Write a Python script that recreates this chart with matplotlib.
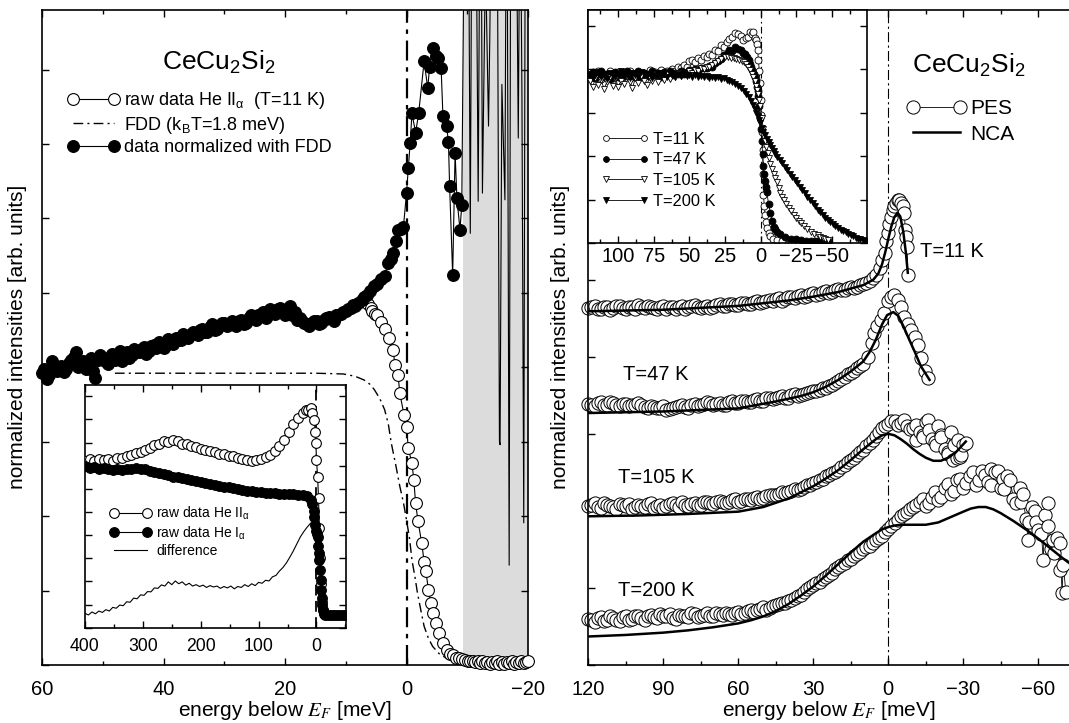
import matplotlib
matplotlib.use('Agg')
import matplotlib.pyplot as plt
from matplotlib.lines import Line2D
from matplotlib.ticker import MultipleLocator
import numpy as np

plt.rcParams['font.family'] = ['Liberation Sans', 'DejaVu Sans']
plt.rcParams['mathtext.fontset'] = 'stix'

# ---------------- left panel: T=11 K, FDD normalisation ----------------
# data normalized with FDD: two interleaved energy grids + fine part near E_F
e_norm_a = np.linspace(60, 8, 66)
i_norm_a = [3.92, 3.84, 4.08, 3.95, 4.02, 3.98, 4.10, 4.20, 4.05, 3.98,
            4.12, 3.86, 4.16, 4.08, 4.14, 4.10, 4.22, 4.18, 4.12, 4.24,
            4.20, 4.27, 4.22, 4.30, 4.34, 4.26, 4.38, 4.31, 4.36, 4.45,
            4.40, 4.48, 4.43, 4.52, 4.47, 4.58, 4.52, 4.60, 4.55, 4.62,
            4.56, 4.64, 4.60, 4.70, 4.63, 4.72, 4.66, 4.78, 4.72, 4.80,
            4.70, 4.82, 4.74, 4.66, 4.60, 4.56, 4.62, 4.58, 4.64, 4.68,
            4.62, 4.70, 4.74, 4.78, 4.84, 4.86]
e_norm_b = np.linspace(59.6, 8.4, 65)
i_norm_b = [3.98, 3.90, 4.02, 4.00, 3.93, 4.06, 4.14, 4.00, 4.08, 4.02,
            3.95, 4.10, 4.12, 4.04, 4.18, 4.14, 4.08, 4.20, 4.16, 4.22,
            4.25, 4.18, 4.28, 4.26, 4.32, 4.30, 4.34, 4.40, 4.36, 4.42,
            4.44, 4.46, 4.50, 4.48, 4.54, 4.50, 4.56, 4.60, 4.58, 4.60,
            4.62, 4.58, 4.66, 4.68, 4.70, 4.74, 4.70, 4.76, 4.78, 4.76,
            4.78, 4.70, 4.64, 4.62, 4.58, 4.60, 4.62, 4.60, 4.66, 4.66,
            4.70, 4.72, 4.76, 4.80, 4.82]
e_norm_fine = [7.4, 7.0, 6.5, 6.0, 5.3, 4.8, 4.2, 3.6, 3.1, 2.6, 2.2, 1.8,
               1.4, 0.9, 0.5, 0.0, -0.3, -0.6, -0.9, -1.5, -2.0, -2.9, -3.5,
               -3.8, -4.3, -4.8, -5.2, -5.7, -6.0, -6.6, -6.9, -7.1, -7.6,
               -8.0, -8.3, -8.8, -9.1]
i_norm_fine = [4.90, 4.95, 4.97, 5.02, 5.09, 5.12, 5.18, 5.22, 5.40, 5.45,
               5.53, 5.70, 5.84, 5.86, 5.89, 6.34, 6.68, 7.01, 7.41, 7.15,
               7.41, 8.11, 7.75, 8.04, 8.29, 8.18, 8.15, 8.02, 7.37, 7.24,
               7.03, 6.43, 5.24, 6.88, 6.27, 5.85, 6.18]

# normalized data inside the grey (noise dominated) region
e_noise = [-9.1, -9.6, -10.1, -10.5, -10.9, -11.3, -11.8, -12.2, -12.5,
           -13.0, -13.5, -13.7, -14.2, -14.8, -15.3, -15.4, -15.7, -16.2,
           -16.5, -16.9, -17.2, -17.8, -18.4, -18.7, -19.0, -19.3, -19.6, -20.0]
i_noise = [6.18, 11, 12, 5.8, 13, 12, 6.23, 12, 6.34, 9.5, 7.24, 8.36, 12, 13,
           3.0, 2.96, 7.8, 6.25, 12, 1.34, 12, 13, 7.08, 11, 7.68, 1.91, 12, 12]

# raw data He II (visible part, cut-off region)
e_raw = [7.0, 6.4, 5.9, 5.6, 5.2, 4.8, 4.2, 3.6, 2.8, 2.2, 1.9, 1.4, 1.1, 0.4,
         0.0, -0.3, -0.9, -1.2, -1.5, -1.9, -2.5, -2.9, -3.2, -3.6, -4.0,
         -4.4, -4.9, -5.4, -6.0, -6.6, -7.2, -7.7, -8.2, -8.7, -9.2, -9.7,
         -10.1, -10.5, -10.9, -11.3, -11.7, -12.1, -12.5, -12.9, -13.3,
         -13.7, -14.1, -14.5, -14.9, -15.3, -15.7, -16.1, -16.5, -16.9,
         -17.3, -17.7, -18.1, -18.5, -18.9, -19.3, -19.7, -20.0]
i_raw = [4.93, 4.85, 4.80, 4.75, 4.72, 4.70, 4.61, 4.52, 4.39, 4.23, 4.03,
         3.90, 3.65, 3.36, 3.20, 2.91, 2.71, 2.49, 2.17, 1.93, 1.64, 1.39,
         1.26, 1.01, 0.83, 0.70, 0.56, 0.43, 0.29, 0.20, 0.15, 0.13, 0.10,
         0.09, 0.08, 0.07, 0.06, 0.05, 0.06, 0.04, 0.05, 0.03, 0.05, 0.03,
         0.04, 0.02, 0.04, 0.03, 0.05, 0.02, 0.04, 0.02, 0.04, 0.03, 0.05,
         0.02, 0.04, 0.03, 0.05, 0.03, 0.04, 0.05]

# Fermi-Dirac distribution, k_B T = 1.8 meV
e_fdd = [48, 30, 15, 10.4, 8.5, 7.0, 6.0, 5.3, 4.4, 3.6, 3.0, 2.5, 1.8,
         1.1, 0.5, 0.0, -0.5, -0.9, -1.4, -1.8, -2.4, -2.9, -3.6, -4.3, -5.4,
         -6.6, -8.0, -10.0]
i_fdd = [3.92, 3.92, 3.92, 3.91, 3.88, 3.83, 3.77, 3.70, 3.58, 3.43,
         3.24, 2.98, 2.70, 2.40, 2.18, 1.95, 1.70, 1.41, 1.18, 0.97, 0.72,
         0.52, 0.36, 0.25, 0.15, 0.09, 0.04, 0.02]
grey_from, grey_to = -9.35, -20

# ---------------- left inset: He II, He I and difference ----------------
e_he2_grid = np.linspace(400, 24, 48)
i_he2_grid = [7.22, 7.30, 7.20, 7.28, 7.24, 7.30, 7.22, 7.32, 7.35, 7.40,
              7.45, 7.55, 7.58, 7.70, 7.78, 7.90, 7.95, 8.05, 8.02, 8.12,
              8.05, 7.95, 7.92, 7.85, 7.80, 7.74, 7.70, 7.62, 7.60, 7.52,
              7.50, 7.42, 7.40, 7.32, 7.30, 7.25, 7.22, 7.26, 7.30, 7.36,
              7.48, 7.62, 7.85, 8.10, 8.45, 8.80, 9.05, 9.28]
e_he2_fine = [18, 14, 10, 7, 4, 2, 1, 0, -2, -3.5, -5, -6.5, -8, -9.5, -11, -13]
i_he2_fine = [9.40, 9.42, 9.48, 9.30, 8.98, 8.47, 7.97, 7.25, 6.53, 5.59, 4.3,
              3.0, 1.9, 1.1, 0.75, 0.6]

e_he1_grid = np.linspace(400, 16, 49)
i_he1_grid = [6.98, 6.92, 6.95, 6.88, 6.90, 6.84, 6.82, 6.86, 6.83, 6.88,
              6.85, 6.90, 6.86, 6.84, 6.78, 6.74, 6.70, 6.64, 6.58, 6.52,
              6.50, 6.45, 6.42, 6.38, 6.34, 6.30, 6.26, 6.22, 6.18, 6.14,
              6.10, 6.06, 6.02, 5.98, 5.95, 5.92, 5.90, 5.88, 5.86, 5.84,
              5.82, 5.81, 5.80, 5.78, 5.77, 5.76, 5.74, 5.73, 5.68]
e_he1_fine = [10, 7, 5, 4, 2.5, 1, -0.5, -2, -3, -4, -5, -6, -7, -8, -9, -10,
              -11, -12.5, -15, -20, -25, -30, -35, -40, -45, -50]
i_he1_fine = [5.52, 5.35, 5.05, 4.80, 4.45, 4.20, 4.05, 3.93, 3.55, 3.25, 2.93,
              2.50, 2.05, 1.63, 1.30, 1.00, 0.76, 0.62, 0.57, 0.55, 0.56, 0.54,
              0.55, 0.56, 0.55, 0.55]

e_diff = np.linspace(400, 10, 66)
i_diff = [0.62, 0.55, 0.68, 0.60, 0.72, 0.66, 0.78, 0.72, 0.88, 0.84,
          0.98, 0.95, 1.12, 1.10, 1.28, 1.25, 1.42, 1.40, 1.56, 1.55,
          1.72, 1.70, 1.85, 1.80, 1.98, 1.86, 2.02, 1.90, 1.98, 1.84,
          1.92, 1.80, 1.86, 1.78, 1.84, 1.74, 1.82, 1.76, 1.80, 1.70,
          1.78, 1.72, 1.80, 1.68, 1.78, 1.74, 1.86, 1.78, 1.90, 1.82,
          1.96, 1.92, 2.05, 2.02, 2.20, 2.26, 2.45, 2.60, 2.80, 3.05,
          3.32, 3.62, 3.92, 4.15, 4.35, 4.52]

# ---------------- right panel: PES vs NCA, four temperatures ----------------
e_11_a = np.linspace(120, 5, 47)
i_11_a = [4.63, 4.66, 4.62, 4.65, 4.63, 4.66, 4.62, 4.64, 4.67, 4.63,
          4.65, 4.62, 4.66, 4.64, 4.62, 4.66, 4.64, 4.67, 4.63, 4.66,
          4.65, 4.68, 4.66, 4.69, 4.67, 4.70, 4.69, 4.72, 4.71, 4.74,
          4.75, 4.73, 4.78, 4.76, 4.80, 4.79, 4.83, 4.82, 4.85, 4.84,
          4.88, 4.87, 4.90, 4.91, 4.95, 4.98, 5.06]
e_11_b = np.linspace(118.75, 6.25, 46)
i_11_b = [4.65, 4.62, 4.64, 4.61, 4.66, 4.63, 4.65, 4.62, 4.64, 4.66,
          4.63, 4.65, 4.62, 4.65, 4.64, 4.62, 4.66, 4.64, 4.65, 4.63,
          4.67, 4.66, 4.68, 4.67, 4.70, 4.68, 4.71, 4.70, 4.73, 4.72,
          4.76, 4.75, 4.77, 4.79, 4.78, 4.81, 4.80, 4.84, 4.83, 4.86,
          4.86, 4.89, 4.89, 4.93, 4.96, 5.02]
e_11_fine = [3.5, 2.5, 1.5, 0.8, 0.3, -0.4, -1.0, -1.7, -2.4, -3.0, -3.7,
             -4.4, -5.1, -5.8, -6.4, -6.8, -7.2, -7.5, -7.8]
i_11_fine = [5.15, 5.25, 5.35, 5.50, 5.61, 5.72, 5.82, 5.90, 5.95, 6.00, 6.04,
             6.03, 6.00, 5.95, 5.87, 5.65, 5.55, 5.43, 5.06]
e_nca_11 = [120, 90, 60, 40, 30, 20, 10, 6, 4, 2.5, 1.2, 0, -1.2, -2.4, -3.7,
            -4.8, -6, -7, -7.8]
i_nca_11 = [4.59, 4.61, 4.66, 4.73, 4.78, 4.84, 4.93, 5.00, 5.08, 5.20, 5.36,
            5.53, 5.69, 5.81, 5.87, 5.82, 5.62, 5.36, 5.09]

e_47_a = np.linspace(120, 10, 45)
i_47_a = [3.39, 3.36, 3.41, 3.37, 3.40, 3.36, 3.39, 3.37, 3.40, 3.35,
          3.36, 3.33, 3.36, 3.32, 3.35, 3.37, 3.34, 3.39, 3.37, 3.41,
          3.38, 3.40, 3.38, 3.42, 3.40, 3.43, 3.41, 3.45, 3.43, 3.47,
          3.46, 3.49, 3.47, 3.52, 3.50, 3.53, 3.55, 3.57, 3.60, 3.64,
          3.69, 3.74, 3.79, 3.86, 3.90]
e_47_b = np.linspace(118.75, 11.25, 44)
i_47_b = [3.37, 3.40, 3.38, 3.41, 3.37, 3.39, 3.36, 3.38, 3.37, 3.34,
          3.35, 3.34, 3.31, 3.34, 3.36, 3.35, 3.38, 3.36, 3.39, 3.40,
          3.39, 3.37, 3.41, 3.40, 3.42, 3.41, 3.44, 3.43, 3.46, 3.45,
          3.48, 3.46, 3.50, 3.49, 3.52, 3.54, 3.56, 3.59, 3.62, 3.66,
          3.71, 3.77, 3.82, 3.88]
e_47_fine = [8, 6.5, 5.7, 4.5, 3, 1.6, 0.3, -1, -2.4, -3.7, -5.1, -6.4, -7.8,
             -9.1, -10.5, -11.8, -13.2, -14.5, -15.9]
i_47_fine = [4.00, 4.18, 4.31, 4.40, 4.48, 4.57, 4.72, 4.77, 4.80, 4.74, 4.64,
             4.52, 4.42, 4.35, 4.26, 4.15, 3.98, 3.82, 3.73]
e_nca_47 = [120, 90, 60, 45, 35, 30, 25, 20, 15, 10, 7.5, 5, 2.5, 0.5, -2, -4,
            -6, -8, -10.5, -13, -16.5]
i_nca_47 = [3.27, 3.29, 3.33, 3.42, 3.49, 3.54, 3.61, 3.70, 3.81, 3.94, 4.06,
            4.22, 4.42, 4.54, 4.58, 4.53, 4.40, 4.25, 4.07, 3.88, 3.70]

e_105_a = np.linspace(120, -30, 61)
i_105_a = [2.06, 2.10, 2.04, 2.08, 2.05, 2.09, 2.06, 2.03, 2.08, 2.05,
           2.10, 2.06, 2.04, 2.09, 2.07, 2.11, 2.06, 2.10, 2.08, 2.12,
           2.09, 2.13, 2.10, 2.14, 2.12, 2.16, 2.14, 2.18, 2.17, 2.21,
           2.20, 2.24, 2.24, 2.28, 2.29, 2.33, 2.36, 2.40, 2.45, 2.49,
           2.53, 2.60, 2.66, 2.72, 2.79, 2.88, 2.97, 3.07, 3.13, 3.17,
           3.14, 3.10, 3.08, 3.02, 3.15, 2.93, 3.10, 2.80, 3.02, 2.68,
           2.85]
e_105_b = np.linspace(118.75, -28.75, 60)
i_105_b = [2.08, 2.05, 2.10, 2.06, 2.03, 2.07, 2.09, 2.05, 2.06, 2.09,
           2.04, 2.08, 2.06, 2.10, 2.05, 2.08, 2.09, 2.07, 2.11, 2.10,
           2.11, 2.12, 2.11, 2.15, 2.13, 2.15, 2.17, 2.16, 2.19, 2.20,
           2.22, 2.23, 2.26, 2.27, 2.31, 2.34, 2.38, 2.42, 2.47, 2.51,
           2.57, 2.63, 2.69, 2.76, 2.84, 2.92, 3.02, 3.10, 3.16, 3.12,
           3.18, 3.06, 3.12, 2.98, 3.05, 2.90, 2.96, 2.76, 2.86, 2.70]
e_105_extra = [-11, -14, -16, -19, -21, -24, -26, -28, -29, -31]
i_105_extra = [2.92, 2.96, 3.18, 2.86, 2.98, 2.74, 2.66, 2.92, 2.72, 2.88]
e_nca_105 = [120, 100, 80, 60, 50, 40, 30, 25, 20, 15, 10, 5, 2.5, 0, -2.5, -5,
             -7.5, -10, -12.5, -15, -18, -21, -24, -27, -31]
i_nca_105 = [1.93, 1.94, 1.96, 1.99, 2.05, 2.16, 2.32, 2.42, 2.53, 2.66, 2.80,
             2.93, 2.98, 3.00, 2.98, 2.93, 2.87, 2.80, 2.74, 2.69, 2.65, 2.65,
             2.69, 2.76, 2.90]

e_200_a = np.linspace(120, -70, 77)
i_200_a = [0.60, 0.56, 0.62, 0.58, 0.61, 0.57, 0.63, 0.60, 0.64, 0.59,
           0.65, 0.61, 0.63, 0.66, 0.60, 0.64, 0.62, 0.66, 0.63, 0.67,
           0.64, 0.66, 0.68, 0.65, 0.69, 0.67, 0.71, 0.72, 0.75, 0.74,
           0.78, 0.80, 0.83, 0.87, 0.91, 0.98, 1.04, 1.08, 1.14, 1.20,
           1.27, 1.33, 1.38, 1.44, 1.50, 1.55, 1.62, 1.68, 1.76, 1.84,
           1.93, 1.98, 2.05, 2.12, 2.06, 2.18, 2.14, 2.30, 2.22, 2.40,
           2.30, 2.45, 2.34, 2.52, 2.38, 2.50, 2.30, 2.45, 2.16, 2.30,
           1.90, 2.05, 1.75, 1.95, 1.50, 1.65, 1.30]
e_200_b = np.linspace(118.75, -68.75, 76)
i_200_b = [0.58, 0.61, 0.57, 0.63, 0.59, 0.62, 0.58, 0.64, 0.61, 0.63,
           0.62, 0.66, 0.64, 0.61, 0.65, 0.63, 0.67, 0.62, 0.65, 0.64,
           0.67, 0.65, 0.66, 0.68, 0.66, 0.70, 0.69, 0.73, 0.72, 0.76,
           0.79, 0.81, 0.85, 0.89, 0.95, 1.01, 1.06, 1.11, 1.17, 1.24,
           1.30, 1.36, 1.41, 1.47, 1.53, 1.58, 1.65, 1.72, 1.80, 1.88,
           1.96, 2.02, 2.08, 2.16, 2.10, 2.24, 2.18, 2.35, 2.26, 2.42,
           2.36, 2.50, 2.40, 2.46, 2.34, 2.52, 2.28, 2.40, 2.10, 2.22,
           1.85, 2.00, 1.70, 1.80, 1.45, 1.58]
e_200_extra = [-41, -46, -53, -56, -59, -62, -64, -66, -68.5, -69.5, -71]
i_200_extra = [2.55, 2.42, 2.12, 1.62, 1.85, 1.36, 2.10, 1.62, 1.23, 0.93, 0.95]
e_nca_200 = [120, 105, 90, 80, 70, 60, 55, 50, 45, 40, 35, 30, 25, 20, 15, 10,
             5, 2.5, 0, -2.5, -5, -10, -15, -20, -25, -30, -33, -36, -39, -42,
             -45, -50, -55, -60, -65, -70, -75]
i_nca_200 = [0.37, 0.39, 0.42, 0.45, 0.49, 0.54, 0.58, 0.63, 0.70, 0.79, 0.90,
             1.02, 1.16, 1.31, 1.46, 1.60, 1.71, 1.76, 1.79, 1.81, 1.82, 1.82,
             1.82, 1.85, 1.92, 1.99, 2.03, 2.05, 2.05, 2.02, 1.97, 1.87, 1.76,
             1.64, 1.51, 1.38, 1.26]

temp_labels = ['T=11 K', 'T=47 K', 'T=105 K', 'T=200 K']
temp_label_pos = [(-12.7, 5.36), (106.3, 3.77), (108.1, 2.43), (108.1, 0.97)]

# ---------------- right inset: raw spectra at four temperatures ----------------
e_in11_grid = np.linspace(120, 56, 33)
i_in11_grid = [3.80, 3.92, 3.84, 3.95, 3.78, 3.90, 3.86, 3.97, 3.82, 3.88,
               3.93, 3.79, 3.91, 3.85, 3.96, 3.83, 3.89, 3.94, 3.81, 3.92,
               3.87, 3.98, 3.84, 3.93, 3.88, 3.99, 3.90, 3.95, 3.92, 4.00,
               3.96, 4.04, 4.02]
e_in11_fine = [54, 52, 50, 48, 46, 44, 42, 40, 38, 36, 34, 32, 30, 28, 26, 24,
               22, 20, 18, 16, 14, 12.3, 10.5, 9, 7.5, 6.4, 5.2, 4.2, 3.4, 2.8,
               2.2, 1.6, 1.0, 0.5, 0.0, -0.5, -1.0, -1.4, -1.65, -1.9, -2.6,
               -3.1, -3.7, -4.3, -5.5, -6.7, -8.5, -11.4, -15, -21]
i_in11_fine = [4.10, 4.06, 4.18, 4.21, 4.16, 4.25, 4.22, 4.30, 4.28, 4.36,
               4.33, 4.45, 4.42, 4.56, 4.52, 4.63, 4.70, 4.75, 4.84, 4.80,
               4.76, 4.67, 4.72, 4.75, 4.85, 4.82, 4.86, 4.72, 4.66, 4.59,
               4.45, 4.21, 3.95, 3.68, 3.30, 2.95, 2.55, 2.15, 1.60, 1.10,
               0.85, 0.65, 0.48, 0.36, 0.24, 0.16, 0.10, 0.07, 0.05, 0.04]

e_in47_grid = np.linspace(120, 40, 41)
i_in47_grid = [3.84, 3.93, 3.80, 3.89, 3.96, 3.82, 3.90, 3.78, 3.87, 3.94,
               3.83, 3.91, 3.86, 3.97, 3.80, 3.89, 3.85, 3.95, 3.81, 3.92,
               3.88, 3.84, 3.96, 3.87, 3.91, 3.83, 3.94, 3.89, 3.97, 3.86,
               3.92, 3.88, 3.96, 3.90, 3.94, 3.98, 3.93, 4.01, 3.97, 4.03,
               4.02]
e_in47_fine = [38, 36, 34, 32, 30, 28, 26, 24, 22, 20, 18, 16, 14, 12.3, 10.8,
               9.5, 8.5, 7.6, 6.6, 5.8, 4.9, 4.0, 3.4, 2.8, 2.2, 1.6, 1.0, 0.5,
               -0.1, -0.7, -1.3, -1.9, -2.5, -3.1, -3.7, -4.3, -5.5, -6.7, -8,
               -9.0, -10.2, -11.4, -13.8, -17, -21, -25, -28, -32, -35, -38,
               -41, -44, -47]
i_in47_fine = [4.02, 4.08, 4.06, 4.14, 4.18, 4.24, 4.32, 4.36, 4.44, 4.42,
               4.50, 4.46, 4.45, 4.38, 4.34, 4.28, 4.20, 4.13, 4.06, 3.98,
               3.90, 3.81, 3.72, 3.60, 3.50, 3.38, 3.15, 2.89, 2.62, 2.36,
               2.05, 1.77, 1.60, 1.43, 1.30, 1.18, 0.90, 0.70, 0.52, 0.38,
               0.32, 0.27, 0.21, 0.15, 0.11, 0.09, 0.08, 0.06, 0.05, 0.05,
               0.05, 0.04, 0.05]

e_in105_grid = np.linspace(120, 40, 41)
i_in105_grid = [3.72, 3.58, 3.80, 3.64, 3.76, 3.55, 3.70, 3.83, 3.62, 3.78,
                3.60, 3.74, 3.66, 3.82, 3.70, 3.57, 3.79, 3.68, 3.85, 3.72,
                3.64, 3.80, 3.74, 3.88, 3.70, 3.83, 3.76, 3.90, 3.78, 3.86,
                3.82, 3.92, 3.85, 3.90, 3.88, 3.95, 3.92, 3.98, 3.96, 4.02,
                4.00]
e_in105_fine = [38, 36, 34, 32, 30, 28, 25.4, 23, 21, 19, 17, 15, 13, 11.5, 10,
                8.7, 7.5, 6.3, 5.2, 4.3, 3.4, 2.5, 1.6, 1.0, 0.4, -0.7, -1.9,
                -3.1, -4.0, -4.9, -5.8, -6.7, -7.8, -9, -10.2, -11.4, -12.6,
                -13.8, -15, -16.2, -18, -19.7, -21.5, -23.3, -25, -26.8, -28.6,
                -30.4, -32.7, -35, -37.5, -39.9, -41.7, -43.5, -45.3, -47]
i_in105_fine = [4.04, 4.06, 4.10, 4.15, 4.18, 4.24, 4.29, 4.27, 4.25, 4.26,
                4.23, 4.21, 4.18, 4.16, 4.13, 4.05, 3.98, 3.90, 3.81, 3.72,
                3.62, 3.52, 3.43, 3.30, 3.15, 2.89, 2.62, 2.36, 2.22, 2.08,
                1.95, 1.82, 1.71, 1.60, 1.50, 1.40, 1.27, 1.15, 1.07, 1.00,
                0.91, 0.82, 0.74, 0.66, 0.59, 0.52, 0.46, 0.40, 0.33, 0.27,
                0.22, 0.18, 0.15, 0.12, 0.09, 0.07]

e_in200_grid = np.linspace(120, 36, 43)
i_in200_grid = [3.90, 3.80, 3.86, 3.94, 3.83, 3.88, 3.78, 3.92, 3.85, 3.81,
                3.89, 3.95, 3.84, 3.87, 3.79, 3.91, 3.86, 3.82, 3.93, 3.88,
                3.84, 3.90, 3.80, 3.87, 3.92, 3.85, 3.89, 3.83, 3.91, 3.86,
                3.82, 3.88, 3.85, 3.90, 3.84, 3.87, 3.83, 3.86, 3.82, 3.85,
                3.81, 3.84, 3.80]
e_in200_fine = [34, 32, 30, 28, 26, 24, 22, 20, 18, 16, 14, 12, 10, 8.5, 7,
                5.5, 4, 3, 2.2, 1.3, 0.5, -0.7, -1.9, -3.1, -4.3, -5.5, -6.7,
                -7.9, -9, -10.2, -11.4, -13.2, -15, -16.8, -18.5, -20.3, -22,
                -23.9, -25.7, -27.4, -29, -31, -32.8, -34.6, -36.4, -38.2,
                -39.9, -41.7, -43.5, -45.3, -47, -48.8, -50.6, -52.4, -54.2,
                -56, -57.8, -59.6, -61.3, -63.1, -64.9, -66.7, -68.4, -70,
                -71.5, -73, -74.4]
i_in200_fine = [3.83, 3.80, 3.82, 3.78, 3.79, 3.76, 3.74, 3.70, 3.66, 3.61,
                3.56, 3.50, 3.42, 3.35, 3.28, 3.18, 3.08, 3.00, 2.92, 2.84,
                2.76, 2.66, 2.55, 2.48, 2.40, 2.33, 2.25, 2.18, 2.12, 2.05,
                1.99, 1.92, 1.84, 1.76, 1.68, 1.60, 1.53, 1.46, 1.38, 1.30,
                1.22, 1.15, 1.07, 1.00, 0.92, 0.85, 0.77, 0.71, 0.65, 0.59,
                0.54, 0.49, 0.45, 0.40, 0.35, 0.31, 0.28, 0.25, 0.22, 0.19,
                0.16, 0.13, 0.11, 0.09, 0.07, 0.05, 0.04]


def join(*parts):
    # parts: e1, i1, e2, i2, ... -> one series sorted by falling energy
    e = np.concatenate([np.asarray(p, float) for p in parts[0::2]])
    i = np.concatenate([np.asarray(p, float) for p in parts[1::2]])
    order = np.argsort(-e, kind='stable')
    return e[order], i[order]


def style(ax, xmaj, xmin, ymaj, labelsize, pad):
    ax.xaxis.set_major_locator(MultipleLocator(xmaj))
    ax.xaxis.set_minor_locator(MultipleLocator(xmin))
    ax.yaxis.set_major_locator(MultipleLocator(ymaj))
    ax.yaxis.set_minor_locator(plt.NullLocator())
    ax.tick_params(which='both', direction='in', top=True, right=True,
                   labelleft=False, width=1.0)
    ax.tick_params(which='major', length=5, labelsize=labelsize, pad=pad)
    ax.tick_params(which='minor', length=3)
    for s in ax.spines.values():
        s.set_linewidth(1.2)


W, H = 1069, 723
fig = plt.figure(figsize=(W / 100, H / 100), dpi=100)
axL = fig.add_axes([42 / W, 1 - 665 / H, 486 / W, 655 / H])
axR = fig.add_axes([588.3 / W, 1 - 665 / H, 487.5 / W, 655 / H])
insL = fig.add_axes([85 / W, 1 - 627.7 / H, 261 / W, 242.7 / H])
insR = fig.add_axes([588.3 / W, 1 - 243.3 / H, 279 / W, 233.3 / H])

open_kw = dict(color='k', lw=0.8, marker='o', mfc='white', mec='k', mew=0.8)
full_kw = dict(color='k', lw=0.8, marker='o', mfc='k', mec='k', mew=0.8)

# ---- left main ----
axL.axvspan(grey_from, grey_to, color='#dcdcdc', lw=0, zorder=0)
axL.plot(e_noise, i_noise, color='k', lw=0.8, zorder=1)
axL.plot(e_fdd, i_fdd, color='k', lw=1.0, dashes=(7, 3, 1.5, 3), zorder=2)
axL.axvline(0, color='k', lw=1.6, dashes=(9, 3, 2, 3), zorder=2)
axL.plot(e_raw, i_raw, ms=8.5, zorder=3, clip_on=False, **open_kw)
e_n, i_n = join(e_norm_a, i_norm_a, e_norm_b, i_norm_b, e_norm_fine, i_norm_fine)
axL.plot(e_n, i_n, ms=8.5, zorder=4, clip_on=False, **full_kw)
axL.set_xlim(60, -20)
axL.set_ylim(0, 8.8)
style(axL, 20, 10, 1, 14.5, 10.5)
axL.text(0.364, 0.92, r'CeCu$\mathregular{_2}$Si$\mathregular{_2}$',
         transform=axL.transAxes, ha='center', va='center', fontsize=19)
hL = [Line2D([], [], ms=8.5, **open_kw),
      Line2D([], [], color='k', lw=1.0, dashes=(7, 3, 1.5, 3)),
      Line2D([], [], ms=8.5, **full_kw)]
axL.legend(hL, [r'raw data He II$\mathregular{_\alpha}$  (T=11 K)',
                r'FDD (k$\mathregular{_B}$T=1.8 meV)',
                'data normalized with FDD'],
           loc='upper left', bbox_to_anchor=(0.052, 0.878), frameon=False,
           numpoints=2, handlelength=2.9, handletextpad=0.25,
           labelspacing=0.2, borderpad=0, borderaxespad=0, fontsize=13)

# ---- left inset ----
e2, i2 = join(e_he2_grid, i_he2_grid, e_he2_fine, i_he2_fine)
e1, i1 = join(e_he1_grid, i_he1_grid, e_he1_fine, i_he1_fine)
insL.plot(e_diff, i_diff, color='k', lw=0.8, zorder=2)
insL.axvline(0, color='k', lw=1.3, dashes=(6, 3), zorder=1)
insL.plot(e2, i2, ms=7, zorder=3, **open_kw)
insL.plot(e1, i1, ms=7, zorder=4, **full_kw)
insL.set_xlim(400, -51)
insL.set_ylim(0, 10.49)
style(insL, 100, 50, 1, 12.7, 7.5)
hI = [Line2D([], [], ms=7, **open_kw), Line2D([], [], ms=7, **full_kw),
      Line2D([], [], color='k', lw=0.8)]
insL.legend(hI, [r'raw data He II$\mathregular{_\alpha}$',
                 r'raw data He I$\mathregular{_\alpha}$', 'difference'],
            loc='upper left', bbox_to_anchor=(0.096, 0.508), frameon=False,
            numpoints=2, handlelength=2.95, handletextpad=0.39,
            labelspacing=0.18, borderpad=0, borderaxespad=0, fontsize=10)

# ---- right main ----
axR.axvline(0, color='k', lw=0.8, dashes=(9, 3, 2, 3), zorder=1)
pes_kw = dict(color='k', lw=0.6, marker='o', mfc='white', mec='k', mew=0.7,
              ms=9.5)
series = [join(e_11_a, i_11_a, e_11_b, i_11_b, e_11_fine, i_11_fine),
          join(e_47_a, i_47_a, e_47_b, i_47_b, e_47_fine, i_47_fine),
          join(e_105_a, i_105_a, e_105_b, i_105_b, e_105_extra, i_105_extra),
          join(e_200_a, i_200_a, e_200_b, i_200_b, e_200_extra, i_200_extra)]
ncas = [(e_nca_11, i_nca_11), (e_nca_47, i_nca_47), (e_nca_105, i_nca_105),
        (e_nca_200, i_nca_200)]
for (e, i), (en, inca) in zip(series, ncas):
    axR.plot(e, i, zorder=2, clip_on=False, **pes_kw)
    axR.plot(en, inca, color='k', lw=1.8, zorder=3)
for lab, (x, y) in zip(temp_labels, temp_label_pos):
    axR.text(x, y, lab, ha='left', va='center', fontsize=14.5)
axR.set_xlim(120, -75)
axR.set_ylim(0, 8.5)
style(axR, 30, 15, 1, 14.5, 10.5)
axR.text(0.78, 0.916, r'CeCu$\mathregular{_2}$Si$\mathregular{_2}$',
         transform=axR.transAxes, ha='center', va='center', fontsize=19)
hR = [Line2D([], [], **pes_kw), Line2D([], [], color='k', lw=1.8)]
axR.legend(hR, ['PES', 'NCA'], loc='upper left', bbox_to_anchor=(0.653, 0.864),
           frameon=False, numpoints=2, handlelength=2.87, handletextpad=0.19,
           labelspacing=0.32, borderpad=0, borderaxespad=0, fontsize=15)

# ---- right inset ----
insR.axvline(0, color='k', lw=0.8, dashes=(6, 3, 1.5, 3), zorder=1)
small = dict(color='k', lw=0.6, ms=5, mew=0.6, mec='k')
styles_in = [dict(marker='o', mfc='white'), dict(marker='o', mfc='k'),
             dict(marker='v', mfc='white'), dict(marker='v', mfc='k')]
inset_series = [join(e_in11_grid, i_in11_grid, e_in11_fine, i_in11_fine),
                join(e_in47_grid, i_in47_grid, e_in47_fine, i_in47_fine),
                join(e_in105_grid, i_in105_grid, e_in105_fine, i_in105_fine),
                join(e_in200_grid, i_in200_grid, e_in200_fine, i_in200_fine)]
handles_in = []
for k, ((e, i), st) in enumerate(zip(inset_series, styles_in)):
    ln, = insR.plot(e, i, zorder=2 + k, **small, **st)
    handles_in.append(Line2D([], [], color='k', lw=0.6, ms=4.2, mew=0.6,
                             mec='k', **st))
insR.set_xlim(121, -74.8)
insR.set_ylim(0, 5.36)
style(insR, 25, 12.5, 1, 14.5, 3)
insR.legend(handles_in, temp_labels, loc='upper left',
            bbox_to_anchor=(0.045, 0.479), frameon=False, numpoints=2,
            handlelength=2.96, handletextpad=0.21, labelspacing=0.35,
            borderpad=0, borderaxespad=0, fontsize=11.8)

# ---- axis labels ----
for xc in (285, 829):
    fig.text(xc / W, 1 - 716 / H, r'energy below $E_F$ [meV]', ha='center',
             va='baseline', fontsize=15)
for xc in (18, 560):
    fig.text(xc / W, 1 - 337 / H, 'normalized intensities [arb. units]',
             rotation=90, ha='center', va='center', fontsize=15)

fig.savefig('out.png', dpi=100)
